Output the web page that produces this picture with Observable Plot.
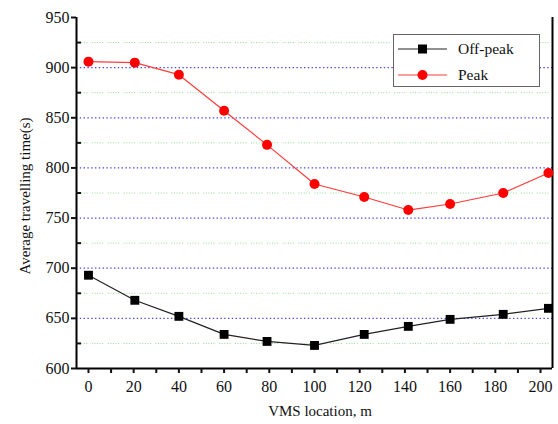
<!DOCTYPE html>
<html>
<head>
<meta charset="utf-8">
<script src="https://cdn.jsdelivr.net/npm/d3@7"></script>
<script src="https://cdn.jsdelivr.net/npm/@observablehq/plot@0.6"></script>
<style>
  html, body { margin: 0; padding: 0; background: #fff; }
  #wrap { position: relative; width: 558px; height: 424px; font-family: "Liberation Serif", "DejaVu Serif", serif; color: #111; }
  #legend { position: absolute; left: 393px; top: 34px; width: 147px; height: 53px; border: 1.5px solid #666; background: #fff; box-sizing: border-box; }
  .row { position: absolute; left: 0; height: 20px; display: flex; align-items: center; font-size: 15.5px; color: #111; }
  .row span { margin-left: 8px; }
  #ylabel { position: absolute; left: 25px; top: 196px; transform: translate(-50%, -50%) rotate(-90deg); white-space: nowrap; font-size: 15px; }
  #xlabel { position: absolute; left: 320px; top: 411px; transform: translate(-50%, -50%); white-space: nowrap; font-size: 15px; }
</style>
</head>
<body>
<div id="wrap">
  <div id="chart"></div>
  <div id="legend"></div>
  <div id="ylabel"></div>
  <div id="xlabel"></div>
</div>
<script>
// Data
const locations = [0, 20.5, 40, 60, 79, 100, 122, 141.5, 160, 183.5, 203.5];
const offPeak   = [693, 668, 652, 634, 627, 623, 634, 642, 649, 654, 660];
const peak      = [906, 905, 893, 857, 823, 784, 771, 758, 764, 775, 795];
const seriesNames = ["Off-peak", "Peak"];
const xLabel = "VMS location, m";
const yLabel = "Average travelling time(s)";
const xTicks = d3.range(0, 201, 10);
const yMajor = d3.range(600, 951, 50);
const yMinor = d3.range(625, 951, 50);
const blueGrid = d3.range(650, 901, 50);
const greenGrid = d3.range(625, 926, 50);

const rowsOff = locations.map((x, i) => ({x, y: offPeak[i]}));
const rowsPeak = locations.map((x, i) => ({x, y: peak[i]}));

const xDomain = [-5.3, 205.3];
const yDomain = [600, 950];

const chart = Plot.plot({
  width: 558,
  height: 424,
  marginLeft: 76,
  marginRight: 6,
  marginTop: 17,
  marginBottom: 56,
  style: {fontFamily: "Liberation Serif, serif", fontSize: "16px", color: "#111", background: "#fff"},
  x: {domain: xDomain},
  y: {domain: yDomain},
  marks: [
    Plot.ruleY(greenGrid, {stroke: "#8fdc8f", strokeWidth: 1, strokeDasharray: "1,1.6,1,1.6,1,1.6,1,1.6,1,4.5"}),
    Plot.ruleY(blueGrid, {stroke: "#4a4ae8", strokeWidth: 1.2, strokeDasharray: "1.4,2.4"}),
    Plot.ruleX([xDomain[0], xDomain[1]], {stroke: "#000", strokeWidth: 2}),
    Plot.ruleY([yDomain[0]], {stroke: "#000", strokeWidth: 2}),
    Plot.axisX({
      ticks: xTicks,
      tickSize: 5,
      tickPadding: 7,
      tickFormat: d => d % 20 === 0 ? String(d) : "",
      fontSize: 16,
      label: null,
      strokeWidth: 2
    }),
    Plot.axisY({
      ticks: yMajor,
      tickSize: 5,
      tickPadding: 2,
      fontSize: 16,
      label: null,
      strokeWidth: 2
    }),
    Plot.axisY({ticks: yMinor, tickSize: 5, dx: 5, text: null, label: null, strokeWidth: 2}),
    Plot.line(rowsOff, {x: "x", y: "y", stroke: "#222", strokeWidth: 1.2}),
    Plot.dot(rowsOff, {x: "x", y: "y", symbol: "square", r: 5, fill: "#000"}),
    Plot.line(rowsPeak, {x: "x", y: "y", stroke: "#ff3b3b", strokeWidth: 1.2}),
    Plot.dot(rowsPeak, {x: "x", y: "y", symbol: "circle", r: 5, fill: "#ff0000"})
  ]
});
document.getElementById("chart").appendChild(chart);
document.getElementById("xlabel").textContent = xLabel;
document.getElementById("ylabel").textContent = yLabel;

// Legend
const legend = document.getElementById("legend");
const legendStyles = [
  {stroke: "#222", fill: "#000", shape: "square"},
  {stroke: "#ff3b3b", fill: "#ff0000", shape: "circle"}
];
seriesNames.forEach((name, i) => {
  const row = document.createElement("div");
  row.className = "row";
  row.style.top = (i === 0 ? 4 : 30) + "px";
  const s = legendStyles[i];
  const marker = s.shape === "square"
    ? `<rect x="20" y="5.5" width="9" height="9" fill="${s.fill}"/>`
    : `<circle cx="24.5" cy="10" r="5" fill="${s.fill}"/>`;
  row.innerHTML = `<svg width="52" height="20" style="margin-left:4px"><line x1="0" x2="49" y1="10" y2="10" stroke="${s.stroke}" stroke-width="1.2"/>${marker}</svg><span>${name}</span>`;
  legend.appendChild(row);
});
</script>
</body>
</html>
